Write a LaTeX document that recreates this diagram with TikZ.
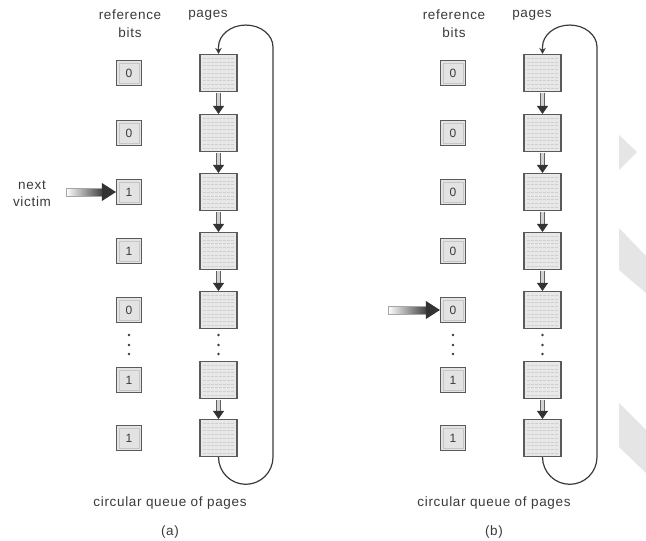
\documentclass[tikz,border=0pt]{standalone}
\usepackage{fontspec}
\setmainfont{Liberation Sans}
\newfontfamily\labfont[LetterSpace=5]{Liberation Sans}
\usetikzlibrary{arrows.meta}
\definecolor{ink}{HTML}{3A3A3A}
\definecolor{boxline}{HTML}{5A5A5A}
\tikzset{
  x=1pt, y=-1pt,
  lab/.style={font=\labfont\fontsize{13.5}{15}\selectfont, text=ink, inner sep=0pt},
  bitbox/.style={draw=boxline, line width=1.1pt, fill=gray!22, minimum width=25pt, minimum height=25pt, inner sep=0pt,
     font=\fontsize{12}{12}\selectfont, text=ink,
     path picture={\draw[gray!45,line width=0.6pt] ([shift={(2.5pt,-2.5pt)}]path picture bounding box.north west) rectangle ([shift={(-2.5pt,2.5pt)}]path picture bounding box.south east);}},
  pagebox/.style={draw=boxline, line width=1.1pt, fill=gray!18, minimum width=37pt, minimum height=37pt, inner sep=0pt,
     path picture={\foreach \i in {1,...,9}{\draw[gray!38,line width=0.35pt,dash pattern=on 3pt off 1pt] ([shift={(3pt,-3.7*\i pt)}]path picture bounding box.north west) -- ([shift={(-3pt,-3.7*\i pt)}]path picture bounding box.north east);}}},
  pagearrow/.style={draw=gray!75!black, line width=0.8pt, double=gray!35, double distance=3.2pt,
     -{Triangle[width=11pt,length=8pt,color=black!80,fill=black!80]}, shorten <=1pt},
  loopline/.style={draw=ink, line width=1.2pt, -{Stealth[width=6.5pt,length=6pt]}},
  dotmark/.style={fill=ink, circle, inner sep=0pt, minimum size=2.6pt},
  wm/.style={fill=gray!20, draw=none}
}
\begin{document}
\begin{tikzpicture}
\useasboundingbox (0,0) rectangle (646,541);

% watermark shapes
\fill[wm] (619,135) -- (637,152) -- (619,170) -- cycle;
\fill[wm] (619,228) -- (646,256) -- (646,293) -- (619,270) -- cycle;
\fill[wm] (619,403) -- (646,430) -- (646,473) -- (619,447) -- cycle;

\foreach \p/\off in {a/0, b/324}{
  \begin{scope}[xshift=\off]
    \node[lab] (ref\p) at (130,15) {reference};
    \node[lab] (bits\p) at (130,33) {bits};
    \node[lab] (pg\p) at (208,15) {pages};
    \foreach \y [count=\i] in {73,133,192,251,310,380,438}{
      \node[pagebox] (p\p\i) at (218.5,\y) {};
    }
    \node[lab] (cq\p) at (170,503) {circular queue of pages};
    \node[lab] (cap\p) at (170,532) {(\p)};
    \foreach \yy [count=\k] in {335,345,354}{
      \node[dotmark] (db\p\k) at (129,\yy) {};
      \node[dotmark] (dp\p\k) at (218.5,\yy) {};
    }
  \end{scope}
}

% bit boxes
\foreach \v/\yy [count=\i] in {0/73,0/133,1/192,1/251,0/310,1/380,1/438}{
  \node[bitbox] (ba\i) at (129,\yy) {\v};
}
\foreach \v/\yy [count=\i] in {0/73,0/133,0/192,0/251,0/310,1/380,1/438}{
  \node[bitbox] (bb\i) at (453,\yy) {\v};
}

% page arrows
\foreach \p in {a,b}{
  \foreach \i/\j in {1/2,2/3,3/4,4/5,6/7}{
    \draw[pagearrow] (p\p\i.south) -- (p\p\j.north);
  }
  \draw[loopline] (p\p7.south) arc[start angle=180,end angle=360,radius=27.25pt]
     -- ++(0,-410) arc[start angle=0,end angle=180,x radius=27.25pt,y radius=22pt] -- (p\p1.north);
}

% next victim
\node[lab, align=center] (nv) at (32,194) {next\\[2pt]victim};
\coordinate (va) at (66,192);
\coordinate (vb) at (388,310);
\foreach \s/\t in {va/ba3, vb/bb5}{
  \shade[left color=white, right color=black!75, draw=gray!70, line width=0.5pt]
     ([yshift=-4pt]\s) rectangle ([xshift=-13pt,yshift=4pt]\t.west);
  \fill[black!80] ([xshift=-14pt,yshift=-9pt]\t.west) -- (\t.west) -- ([xshift=-14pt,yshift=9pt]\t.west) -- cycle;
}
\end{tikzpicture}
\end{document}
